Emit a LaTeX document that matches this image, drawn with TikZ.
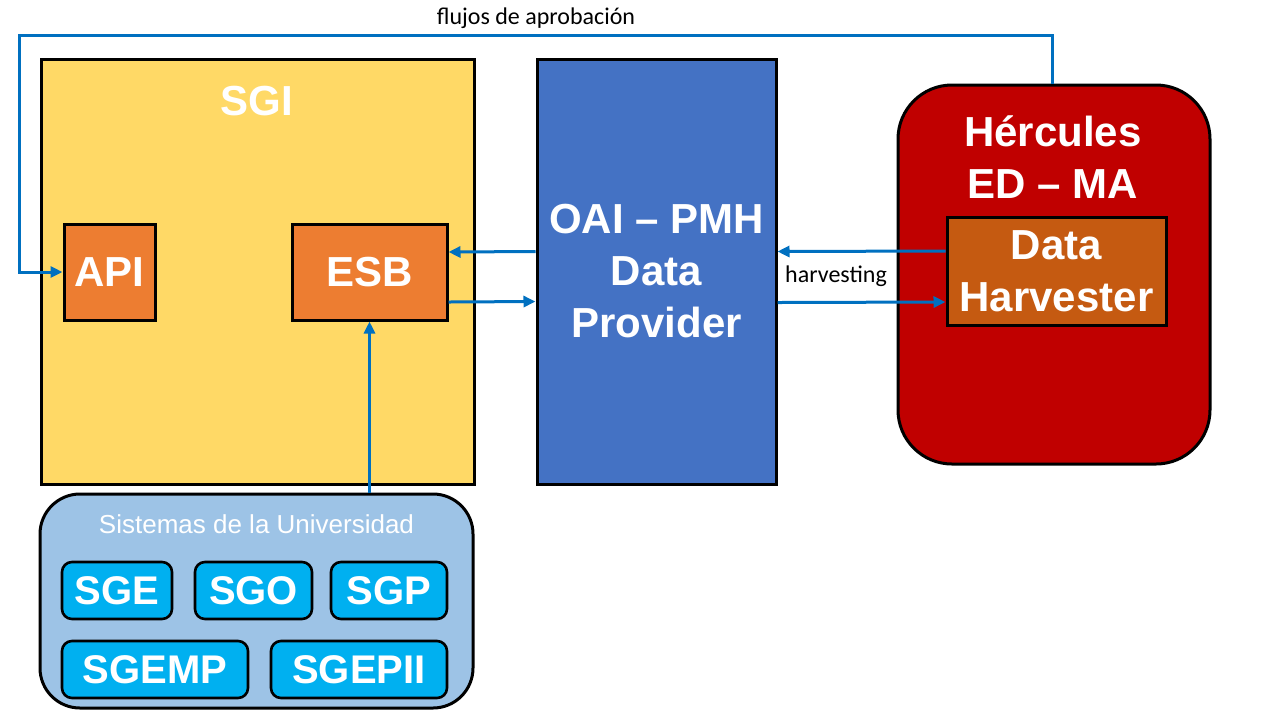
\documentclass[tikz,border=0pt]{standalone}
\usepackage{fontspec}
\setmainfont{Liberation Sans}
\newfontfamily\calib{Carlito}
\usetikzlibrary{arrows.meta}
\definecolor{sgiyellow}{HTML}{FFD966}
\definecolor{oaiblue}{HTML}{4472C4}
\definecolor{hercred}{HTML}{C00000}
\definecolor{boxorange}{HTML}{ED7D31}
\definecolor{harvorange}{HTML}{C55A11}
\definecolor{sislight}{HTML}{9DC3E6}
\definecolor{syscyan}{HTML}{00B0F0}
\definecolor{arrowblue}{HTML}{0070C0}
\tikzset{
  bigbox/.style={draw=black, line width=1.5pt, rectangle, inner sep=0pt},
  bold/.style={text=white, font=\fontsize{21}{26}\selectfont\bfseries, align=center},
  sysbox/.style={draw=black, line width=1.3pt, fill=syscyan, rounded corners=5pt,
    minimum height=28.5pt, inner sep=0pt, text=white, font=\fontsize{20}{24}\selectfont\bfseries},
  conn/.style={draw=arrowblue, line width=1.5pt, -{Triangle[length=6pt,width=5.5pt]}},
  lbl/.style={font=\calib\fontsize{12}{14}\selectfont, text=black, inner sep=1pt}
}
\begin{document}
\begin{tikzpicture}[x=0.5pt,y=-0.5pt]
\useasboundingbox (0,0) rectangle (1280,720);
% SGI
\node[bigbox, fill=sgiyellow, minimum width=216.5pt, minimum height=212.5pt] (sgi) at (257.5,271.5) {};
\node[bold] (sgititle) at (257,101) {SGI};
\node[bigbox, fill=boxorange, minimum width=45.5pt, minimum height=48pt, bold] (api) at (109.5,272) {API};
\node[bigbox, fill=boxorange, minimum width=77.5pt, minimum height=48pt, bold] (esb) at (369.5,272) {ESB};
% OAI
\node[bigbox, fill=oaiblue, minimum width=119.5pt, minimum height=212.5pt, bold] (oai) at (656.5,271.5) {OAI – PMH\\Data\\Provider};
% Hercules
\node[bigbox, fill=hercred, rounded corners=27pt, minimum width=156pt, minimum height=189.5pt] (herc) at (1054,274.5) {};
\node[bold] (herctitle) at (1053,157) {Hércules\\ED – MA};
\node[bigbox, fill=harvorange, minimum width=109.5pt, minimum height=54pt, bold] (harv) at (1056.5,271) {Data\\Harvester};
% Sistemas
\node[bigbox, fill=sislight, rounded corners=20pt, minimum width=216.5pt, minimum height=107pt] (sis) at (256.5,601) {};
\node[text=white, font=\fontsize{13}{15}\selectfont] (sistitle) at (256.5,524) {Sistemas de la Universidad};
\node[sysbox, minimum width=55pt] (sge) at (117,590.5) {SGE};
\node[sysbox, minimum width=58.5pt] (sgo) at (253.5,590.5) {SGO};
\node[sysbox, minimum width=58pt] (sgp) at (389,590.5) {SGP};
\node[sysbox, minimum width=93pt] (sgemp) at (155,669.5) {SGEMP};
\node[sysbox, minimum width=88pt] (sgepii) at (359,669.5) {SGEPII};
% connectors
\coordinate (c1) at (19,35);
\draw[conn] ([xshift=-1pt]herc.north) |- (c1) |- (api.west);
\node[lbl] (flujos) at (536,18) {flujos de aprobación};
\draw[conn] ([yshift=10pt]oai.west) -- ([yshift=10pt]esb.east);
\draw[conn] ([yshift=-15pt]esb.east) -- ([yshift=-15pt]oai.west);
\draw[conn] ([yshift=10pt]harv.west) -- ([yshift=10pt]oai.east);
\draw[conn] ([yshift=-15.5pt]oai.east) -- ([yshift=-15.5pt]harv.west);
\node[lbl] (harvlbl) at (836,276) {harvesting};
\draw[conn] (esb.south |- sis.north) -- (esb.south);
\end{tikzpicture}
\end{document}
